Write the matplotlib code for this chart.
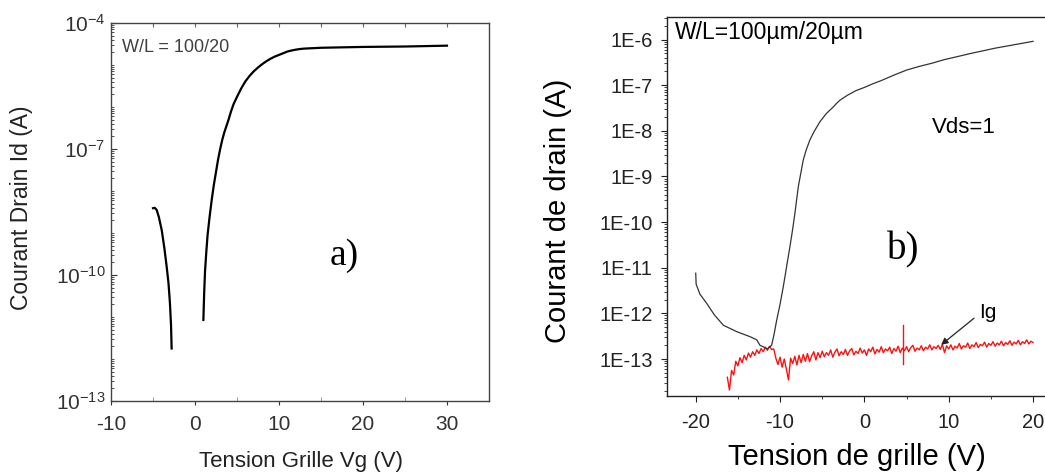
import numpy as np
import matplotlib
matplotlib.use("Agg")
import matplotlib.pyplot as plt
from matplotlib.ticker import LogLocator, NullFormatter, MultipleLocator

plt.rcParams['font.family'] = ['Liberation Sans', 'DejaVu Sans']
plt.rcParams['mathtext.fontset'] = 'custom'
plt.rcParams['mathtext.rm'] = 'Liberation Sans'
plt.rcParams['mathtext.it'] = 'Liberation Sans:italic'
plt.rcParams['mathtext.bf'] = 'Liberation Sans:bold'
plt.rcParams['axes.unicode_minus'] = False

# --- panel a) : Id(Vg), log10 of current in A ---
vg_a1 = [-5.0, -4.8, -4.56, -4.3, -3.96, -3.65, -3.37, -3.15, -2.98, -2.85, -2.78]
id_a1 = [-8.41, -8.40, -8.45, -8.62, -8.93, -9.35, -9.80, -10.2, -10.67, -11.2, -11.75]
vg_a2 = [1.0, 1.1, 1.2, 1.35, 1.5, 1.75, 2.0, 2.25, 2.5, 2.75, 3.0, 3.25, 3.5, 3.75,
         4.0, 4.3, 4.6, 5.0, 5.5, 6.0, 6.5, 7.0, 7.5, 8.0, 8.5, 9.0, 9.5, 10.0,
         10.5, 11.0, 11.5, 12.0, 12.5, 13.0, 14.0, 15.0, 20.0, 25.0, 30.0]
id_a2 = [-11.07, -10.4, -9.9, -9.45, -9.05, -8.6, -8.2, -7.85, -7.55, -7.25, -7.0,
         -6.78, -6.6, -6.45, -6.3, -6.1, -5.93, -5.76, -5.56, -5.39, -5.26, -5.15,
         -5.06, -4.98, -4.91, -4.85, -4.80, -4.76, -4.72, -4.68, -4.655, -4.635,
         -4.62, -4.61, -4.60, -4.59, -4.57, -4.56, -4.54]
yticks_a = [1e-4, 1e-7, 1e-10, 1e-13]
yticklabels_a = ['$10^{-4}$', '$10^{-7}$', '$10^{-10}$', '$10^{-13}$']

# --- panel b) : Id and Ig (log10, A) ---
vg_b = [-20.0, -19.95, -19.5, -18.7, -17.8, -16.73, -15.14, -13.57, -12.77, -12.38,
        -11.9, -11.5, -11.2, -11.0, -10.7, -10.4, -10.0, -9.62, -9.2, -8.83, -8.5,
        -8.24, -7.84, -7.25, -6.9, -6.46, -6.0, -5.27, -4.5, -3.7, -3.3, -2.9, -2.0,
        -1.0, 0.0, 1.0, 2.0, 3.5, 5.0, 6.5, 8.0, 9.5, 10.9, 12.5, 14.0, 15.5, 17.0,
        18.5, 20.0]
id_b = [-11.12, -11.36, -11.58, -11.78, -12.03, -12.26, -12.40, -12.51, -12.58, -12.70,
        -12.74, -12.78, -12.73, -12.70, -12.45, -12.15, -11.8, -11.42, -10.95, -10.54, -10.15,
        -9.81, -9.23, -8.64, -8.42, -8.20, -8.03, -7.80, -7.62, -7.48, -7.40, -7.33, -7.22,
        -7.12, -7.05, -6.97, -6.90, -6.78, -6.67, -6.59, -6.52, -6.44, -6.38, -6.31, -6.25,
        -6.19, -6.14, -6.09, -6.04]

# gate current, sweep from -16.25 V in 0.25 V steps
ig_start = -16.25
ig_step = 0.25
ig_b = [-13.40, -13.68, -13.25, -13.35, -13.05, -13.15, -12.97, -13.08, -12.92, -13.02,
        -12.87, -12.96, -12.84, -12.92, -12.80, -12.88, -12.77, -12.84, -12.74, -12.81,
        -12.72, -12.79,
        -12.78, -12.98, -13.12, -12.96, -13.18, -13.00, -13.22, -13.46, -12.98, -13.10,
        -12.94, -13.13, -12.92, -13.08, -12.90, -13.05, -12.88, -13.06, -12.93, -12.84,
        -13.02, -12.86, -12.97, -12.83, -12.95, -12.86, -12.92, -12.80, -12.96, -12.85,
        -12.78, -12.93, -12.84, -12.90, -12.79, -12.92, -12.82, -12.77, -12.91, -12.83,
        -12.88, -12.76, -12.87, -12.80, -12.92, -12.78, -12.84, -12.74, -12.89, -12.79,
        -12.85, -12.73, -12.86, -12.78, -12.82, -12.74, -12.88, -12.77, -12.83, -12.72,
        -12.86, -12.76, -12.82, -12.73, -12.84, -12.75, -12.70, -12.83, -12.76, -12.80,
        -12.71, -12.82, -12.74, -12.78, -12.69, -12.80, -12.73, -12.77, -12.70, -12.79,
        -12.68, -12.86, -12.71, -12.78, -12.69, -12.80, -12.72, -12.76, -12.66, -12.78,
        -12.71, -12.74, -12.65, -12.77, -12.69, -12.73, -12.64, -12.75, -12.68, -12.71,
        -12.63, -12.74, -12.66, -12.70, -12.62, -12.72, -12.65, -12.69, -12.61, -12.71,
        -12.64, -12.68, -12.60, -12.70, -12.63, -12.67, -12.59, -12.69, -12.62, -12.66,
        -12.58, -12.67, -12.61, -12.64]
spike_vg = [4.6, 4.6]
spike_ig = [-12.26, -13.1]

yticks_b = [1e-13, 1e-12, 1e-11, 1e-10, 1e-9, 1e-8, 1e-7, 1e-6]
yticklabels_b = ['1E-13', '1E-12', '1E-11', '1E-10', '1E-9', '1E-8', '1E-7', '1E-6']

fig = plt.figure(figsize=(10.45, 4.74), dpi=100)

# ---------------- panel a ----------------
ax1 = fig.add_axes([0.1062, 0.154, 0.3617, 0.7975])
ax1.plot(vg_a1, 10 ** np.array(id_a1), color='black', lw=1.6)
ax1.plot(vg_a2, 10 ** np.array(id_a2), color='black', lw=1.6)
ax1.set_yscale('log')
ax1.set_xlim(-10, 35)
ax1.set_ylim(1e-13, 1e-4)
ax1.set_yticks(yticks_a)
ax1.set_yticklabels(yticklabels_a)
ax1.yaxis.set_minor_locator(LogLocator(base=10, subs=np.arange(1, 10), numticks=100))
ax1.yaxis.set_minor_formatter(NullFormatter())
ax1.set_xticks([-10, 0, 10, 20, 30])
ax1.xaxis.set_minor_locator(MultipleLocator(5))
ax1.tick_params(axis='y', which='both', direction='in', colors='#333333', labelsize=15, pad=4)
ax1.tick_params(axis='y', which='major', length=4)
ax1.tick_params(axis='y', which='minor', length=2.5)
ax1.tick_params(axis='x', which='major', direction='out', length=3, pad=7, labelsize=15,
                colors='#333333')
ax1.tick_params(axis='x', which='minor', direction='in', length=3, colors='#888888')
for s in ax1.spines.values():
    s.set_color('#444444')
    s.set_linewidth(1.0)
top1 = ax1.secondary_xaxis('top')
top1.set_xticks([-10, -5, 0, 5, 10, 15, 20, 25, 30])
top1.tick_params(direction='in', length=3, labeltop=False, colors='#666666')
top1.spines['top'].set_visible(False)

ax1.set_xlabel('Tension Grille Vg (V)', fontsize=16, color='#222222')
ax1.xaxis.set_label_coords(0.503, -0.159)
ax1.xaxis.label.set_verticalalignment('center')
ax1.set_ylabel('Courant Drain Id (A)', fontsize=16.5, color='#222222')
ax1.yaxis.set_label_coords(-0.238, 0.51)
ax1.yaxis.label.set_verticalalignment('center')

ax1.text(0.029, 0.936, 'W/L = 100/20', transform=ax1.transAxes, fontsize=13,
         color='#404040', va='center', ha='left')
ax1.text(0.579, 0.384, 'a)', transform=ax1.transAxes, fontsize=27,
         family='Liberation Serif', va='center', ha='left')

# ---------------- panel b ----------------
ax2 = fig.add_axes([0.638, 0.1646, 0.378, 0.8002])
ig_vg = ig_start + ig_step * np.arange(len(ig_b))
ax2.plot(ig_vg, 10 ** np.array(ig_b), color='#ff1010', lw=1.0)
ax2.plot(spike_vg, 10 ** np.array(spike_ig), color='#ff1010', lw=1.0)
ax2.plot(vg_b, 10 ** np.array(id_b), color='#333333', lw=0.9)
ax2.set_yscale('log')
ax2.set_xlim(-23.44, 23.4)
ax2.set_ylim(10 ** -13.81, 10 ** -5.5)
ax2.set_yticks(yticks_b)
ax2.set_yticklabels(yticklabels_b)
ax2.yaxis.set_minor_locator(LogLocator(base=10, subs=np.arange(2, 10), numticks=100))
ax2.yaxis.set_minor_formatter(NullFormatter())
ax2.set_xticks([-20, -10, 0, 10, 20])
ax2.xaxis.set_minor_locator(MultipleLocator(5))
ax2.tick_params(axis='both', which='both', direction='out', colors='#222222')
ax2.tick_params(axis='both', which='major', length=4, labelsize=14.5)
ax2.tick_params(axis='y', which='major', pad=6)
ax2.tick_params(axis='x', which='major', pad=8)
ax2.tick_params(axis='both', which='minor', length=2.5)
for s in ax2.spines.values():
    s.set_color('#222222')
    s.set_linewidth(1.0)

ax2.set_xlabel('Tension de grille (V)', fontsize=21)
ax2.xaxis.set_label_coords(0.482, -0.161)
ax2.xaxis.label.set_verticalalignment('center')
ax2.set_ylabel('Courant de drain (A)', fontsize=21)
ax2.yaxis.set_label_coords(-0.275, 0.488)
ax2.yaxis.label.set_verticalalignment('center')

ax2.text(0.021, 0.957, 'W/L=100µm/20µm', transform=ax2.transAxes, fontsize=16.5,
         va='center', ha='left')
ax2.text(0.672, 0.707, 'Vds=1', transform=ax2.transAxes, fontsize=16,
         va='center', ha='left')
ax2.text(0.558, 0.385, 'b)', transform=ax2.transAxes, fontsize=28,
         family='Liberation Serif', va='center', ha='left')
ax2.text(0.791, 0.219, 'Ig', transform=ax2.transAxes, fontsize=15,
         va='center', ha='left')
ax2.annotate('', xy=(9.1, 10 ** -12.69), xytext=(0.778, 0.205),
             textcoords='axes fraction',
             arrowprops=dict(arrowstyle='-|>', color='#222222', lw=0.9,
                             mutation_scale=10, shrinkA=0, shrinkB=0))

fig.savefig('out.png', dpi=100)
